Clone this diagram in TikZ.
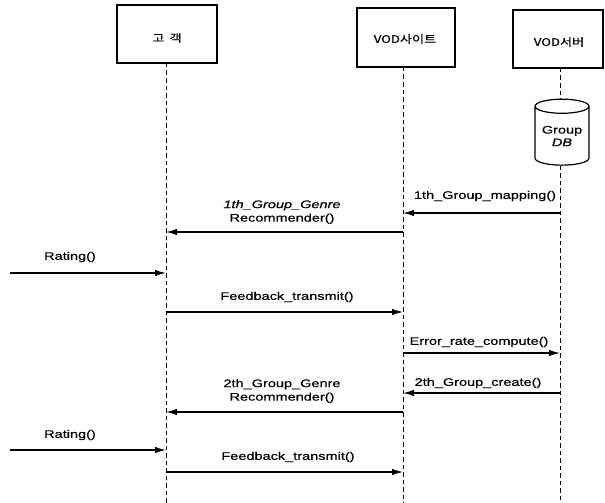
\documentclass[tikz,border=0pt]{standalone}
\usepackage{fontspec}
\setmainfont{Liberation Sans}
\newfontfamily\lbl[FakeStretch=1.32,FakeBold=0.6]{Liberation Sans}
\newfontfamily\krfont[FakeStretch=1.25,FakeBold=0.6]{Noto Sans CJK KR}
\usetikzlibrary{arrows.meta,shapes.geometric}
\begin{document}
\begin{tikzpicture}[x=1pt,y=-1pt,
  actor/.style={draw,line width=1.5pt,inner sep=0pt},
  lifeline/.style={line width=1pt,dash pattern=on 4.5pt off 3pt},
  msg/.style={line width=1.4pt,-{Latex[length=11pt,width=6.5pt]}},
  mtext/.style={font=\lbl\fontsize{11}{13.5}\selectfont,inner sep=0pt,align=center},
  htext/.style={font=\krfont\fontsize{10.5}{12}\selectfont,inner sep=0pt}]
\useasboundingbox (0,0) rectangle (605,503);

% participant boxes
\draw[actor] (117,5) rectangle (217,63);
\draw[actor] (357,8) rectangle (455,67);
\draw[actor] (513,10) rectangle (603,68);
\node[htext] (hcust) at (167,38) {고\,\,\,객};
\node[htext] (hsite) at (405,39) {VOD사이트};
\node[htext] (hserv) at (559,42) {VOD서버};

% lifeline anchors
\coordinate (custtop) at (166,63);
\coordinate (custbot) at (166,503);
\coordinate (sitetop) at (403,67);
\coordinate (sitebot) at (403,503);
\coordinate (servtop) at (560,68);
\coordinate (servbot) at (560,503);

% group database on the server lifeline
\node[draw,line width=1.2pt,cylinder,shape border rotate=90,aspect=0.35,
      minimum width=54pt,minimum height=66pt,inner sep=0pt,
      align=center,font=\lbl\fontsize{11}{13.5}\selectfont] (db) at (562,136)
      {Group\\[-1pt]\textit{DB}};

\draw[lifeline] (custtop) -- (custbot);
\draw[lifeline] (sitetop) -- (sitebot);
\draw[lifeline] (servtop) -- (servtop|-db.top);
\draw[lifeline] (servtop|-db.bottom) -- (servbot);

% message end points
\coordinate (m1s) at (560,213); \coordinate (m1e) at (403,213);
\coordinate (m2s) at (403,232); \coordinate (m2e) at (166,232);
\coordinate (m3s) at (10,273);  \coordinate (m3e) at (166,273);
\coordinate (m4s) at (166,312); \coordinate (m4e) at (403,312);
\coordinate (m5s) at (403,353); \coordinate (m5e) at (560,353);
\coordinate (m6s) at (560,393); \coordinate (m6e) at (403,393);
\coordinate (m7s) at (403,412); \coordinate (m7e) at (166,412);
\coordinate (m8s) at (10,450);  \coordinate (m8e) at (166,450);
\coordinate (m9s) at (166,472); \coordinate (m9e) at (403,472);

% messages
\draw[msg] (m1s) -- (m1e);
\node[mtext] (t1) at (485,196) {1th\_Group\_mapping()};
\draw[msg] (m2s) -- (m2e);
\node[mtext] (t2) at (282,212) {\textit{1th\_Group\_Genre}\\Recommender()};
\draw[msg] (m3s) -- (m3e);
\node[mtext] (t3) at (70,257) {Rating()};
\draw[msg] (m4s) -- (m4e);
\node[mtext] (t4) at (287,297) {Feedback\_transmit()};
\draw[msg] (m5s) -- (m5e);
\node[mtext] (t5) at (479,342) {Error\_rate\_compute()};
\draw[msg] (m6s) -- (m6e);
\node[mtext] (t6) at (478,383) {2th\_Group\_create()};
\draw[msg] (m7s) -- (m7e);
\node[mtext] (t7) at (282,391) {2th\_Group\_Genre\\Recommender()};
\draw[msg] (m8s) -- (m8e);
\node[mtext] (t8) at (70,435) {Rating()};
\draw[msg] (m9s) -- (m9e);
\node[mtext] (t9) at (288,457) {Feedback\_transmit()};
\end{tikzpicture}
\end{document}
